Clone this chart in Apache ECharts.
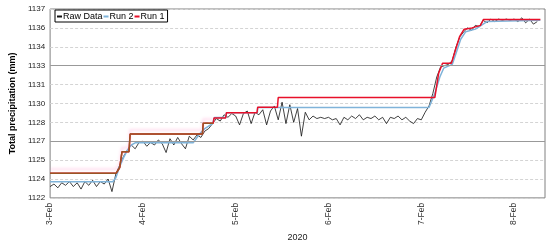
<!DOCTYPE html>
<html lang="en">

<head>
    <meta charset="UTF-8">
    <title>Total precipitation</title>
    <script src="https://cdn.jsdelivr.net/npm/echarts@6/dist/echarts.min.js"></script>
    <style>
        html, body { margin: 0; padding: 0; background: #fff; }
        #app {
            width: 550px;
            height: 247px;
        }
    </style>
</head>

<body>
    <div id="app"></div>
    <script>
        // hours since 3-Feb 00:00 (2020)
        let dayLabels = ['3-Feb', '4-Feb', '5-Feb', '6-Feb', '7-Feb', '8-Feb']
        let yTicks = [1122, 1123.5, 1125, 1126.5, 1128, 1129.5, 1131, 1132.5, 1134, 1135.5, 1137]
        let majorLines = [1126.5, 1132.5]

        // raw data, one reading per hour from 3-Feb 00:00
        let rawData = [
            1122.9, 1123.1, 1122.8, 1123.2, 1123.0, 1123.3, 1122.9, 1123.2, 1122.7, 1123.3, 1123.0, 1123.4,
            1122.9, 1123.3, 1123.1, 1123.5, 1122.5, 1123.9, 1124.6, 1125.3, 1125.8, 1126.2, 1125.9, 1126.4,
            1126.5, 1126.1, 1126.4, 1126.2, 1126.6, 1126.3, 1125.6, 1126.7, 1126.2, 1126.8, 1126.3, 1125.9,
            1126.9, 1126.6, 1127.0, 1126.8, 1127.3, 1127.5, 1127.9, 1128.3, 1128.1, 1128.6, 1128.4, 1128.7,
            1128.5, 1127.8, 1128.7, 1128.9, 1127.9, 1128.8, 1128.6, 1129.0, 1127.8, 1128.9, 1129.3, 1128.2,
            1129.6, 1127.9, 1129.4, 1128.0, 1129.1, 1126.9, 1128.8, 1128.2, 1128.5, 1128.3, 1128.4, 1128.3,
            1128.4, 1128.2, 1128.3, 1127.8, 1128.4, 1128.2, 1128.5, 1128.3, 1128.6, 1128.2, 1128.4, 1128.3,
            1128.5, 1128.2, 1128.4, 1127.9, 1128.4, 1128.3, 1128.5, 1128.2, 1128.4, 1128.1, 1127.9, 1128.3,
            1128.2, 1128.8, 1129.3, 1130.3, 1131.6, 1132.4, 1132.5, 1132.6, 1132.9, 1134.0, 1134.8, 1135.2,
            1135.5, 1135.3, 1135.7, 1135.6, 1136.1, 1135.9, 1136.2, 1136.0, 1136.2, 1136.1, 1136.2, 1136.1,
            1136.2, 1136.0, 1136.3, 1135.9, 1136.2, 1135.8, 1136.0
        ]

        // Run 2: [hour, mm]
        let run2 = [
            [0, 1123.28], [16.2, 1123.28], [17, 1123.6], [18, 1124.5], [19, 1125.2], [20, 1125.8],
            [21, 1126.2], [22, 1126.37], [37, 1126.37], [38, 1126.8], [39, 1127.2], [40, 1127.5],
            [41, 1127.7], [42, 1127.9], [42.5, 1128.38], [45.5, 1128.38], [45.6, 1128.76], [53.6, 1128.76],
            [53.7, 1129.18], [98.0, 1129.18], [99.5, 1130.3], [100.8, 1131.6], [101.8, 1132.3], [104, 1132.6],
            [104.8, 1133.3], [106.2, 1134.6], [107.5, 1135.2], [110, 1135.4], [112, 1135.8], [113, 1136.0],
            [126.8, 1136.1]
        ]

        // Run 1: [hour, mm]
        let run1 = [
            [0, 1123.96], [17.1, 1123.96], [18, 1124.4], [18.6, 1125.67], [20.4, 1125.67], [20.7, 1127.07],
            [39.4, 1127.07], [39.6, 1127.93], [42.2, 1127.93], [42.4, 1128.35], [45.4, 1128.35], [45.6, 1128.76],
            [53.5, 1128.76], [53.7, 1129.2], [58.8, 1129.2], [59.0, 1129.97], [99.5, 1129.97], [100.5, 1131.9],
            [101.5, 1132.7], [103.8, 1132.7], [104.6, 1133.5], [105.9, 1134.8], [107.1, 1135.4], [109.1, 1135.5],
            [111.3, 1135.7], [112.1, 1136.17], [126.8, 1136.17]
        ]
        let run1BrownUntil = 42.3

        let rawPoints = rawData.map((v, i) => [i, v])
        let run1Early = run1.filter(p => p[0] <= run1BrownUntil)

        let font = 'Liberation Sans, Arial, sans-serif'
        let mCharts = echarts.init(document.getElementById('app'))
        let option = {
            animation: false,
            textStyle: { fontFamily: font },
            grid: {
                left: 38, right: 5, top: 9, bottom: 39,
                show: true, borderColor: '#808080', borderWidth: 1
            },
            legend: {
                data: ['Raw Data', 'Run 2', 'Run 1'],
                left: 55, top: 10,
                padding: [2, 3, 1, 2],
                borderColor: '#000', borderWidth: 1,
                backgroundColor: '#fff',
                itemWidth: 5, itemHeight: 2, itemGap: 1,
                icon: 'rect',
                textStyle: { fontSize: 9, color: '#000', fontFamily: font, padding: [0, 0, 0, -4] }
            },
            xAxis: {
                type: 'value',
                min: 0, max: 128, interval: 24,
                name: '2020', nameLocation: 'middle', nameGap: 33,
                nameTextStyle: { fontSize: 9, color: '#222' },
                axisLine: { show: false },
                axisTick: { show: false },
                splitLine: { show: false },
                axisLabel: {
                    rotate: 90, fontSize: 8.5, color: '#333', margin: 5,
                    formatter: v => (v % 24 === 0 && dayLabels[v / 24]) ? dayLabels[v / 24] : ''
                }
            },
            yAxis: {
                type: 'value',
                min: yTicks[0], max: yTicks[yTicks.length - 1], interval: 1.5,
                name: 'Total precipitation (mm)', nameLocation: 'middle', nameGap: 26,
                nameTextStyle: { fontSize: 9, fontWeight: 'bold', color: '#000' },
                axisLine: { show: false },
                axisTick: { show: false },
                axisLabel: { fontSize: 8, color: '#222', margin: 5, formatter: v => Math.round(v) },
                splitLine: { lineStyle: { color: '#d4d4d4', type: [3, 2], width: 1 } }
            },
            series: [
                {
                    name: 'Raw Data', type: 'line', data: rawPoints,
                    showSymbol: false, z: 2,
                    itemStyle: { color: '#111' },
                    lineStyle: { color: '#111', width: 0.8 },
                    markLine: {
                        silent: true, symbol: 'none', label: { show: false },
                        lineStyle: { color: '#999', type: 'solid', width: 1 },
                        data: majorLines.map(v => ({ yAxis: v }))
                    }
                },
                {
                    name: 'Run 2', type: 'line', data: run2,
                    showSymbol: false, z: 3,
                    itemStyle: { color: '#7fb3d9' },
                    lineStyle: { color: '#7fb3d9', width: 1.5 }
                },
                {
                    name: 'Run 1', type: 'line', data: run1,
                    showSymbol: false, z: 4,
                    itemStyle: { color: '#e8102a' },
                    lineStyle: { color: '#e8102a', width: 1.5 }
                },
                {
                    name: 'Run 1 early', type: 'line', data: run1Early,
                    showSymbol: false, z: 5,
                    lineStyle: {
                        color: '#9a5424', width: 1.5,
                        shadowColor: 'rgba(255,120,190,0.35)', shadowOffsetY: -4, shadowBlur: 3
                    }
                }
            ]
        }
        mCharts.setOption(option)
    </script>
</body>

</html>
